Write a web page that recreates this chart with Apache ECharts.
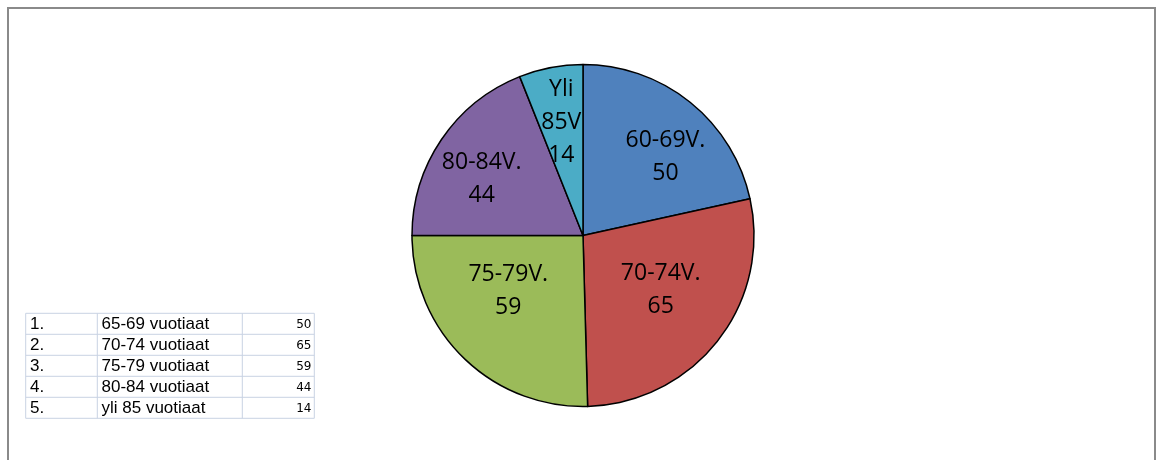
<!DOCTYPE html>
<html>
<head>
<meta charset="utf-8">
<script src="https://cdn.jsdelivr.net/npm/echarts@6/dist/echarts.min.js"></script>
<style>
html,body{margin:0;padding:0;background:#fff;}
#chart{width:1158px;height:460px;}
</style>
</head>
<body>
<div id="chart"></div>
<script>
// Pie data
const categories = ['60-69V.', '70-74V.', '75-79V.', '80-84V.', 'Yli\n85V'];
const values = [50, 65, 59, 44, 14];

// Table data
const tableIndex = ['1.', '2.', '3.', '4.', '5.'];
const tableLabels = ['65-69 vuotiaat', '70-74 vuotiaat', '75-79 vuotiaat', '80-84 vuotiaat', 'yli 85 vuotiaat'];
const tableValues = [50, 65, 59, 44, 14];

// Styles / layout
const colors = ['#4f81bd', '#c0504d', '#9bbb59', '#8064a2', '#4bacc6'];
const labelOffsets = [[27, -10], [8, 0], [-13, -8], [-28, -7], [-5, -26]];

const chart = echarts.init(document.getElementById('chart'));

const colX = [25.7, 97.3, 242.3, 314.3];
const rowTop = 313.3, rowH = 21;
const gridColor = '#c9d3e3';
const graphics = [];

// outer frame
graphics.push({
  type: 'polyline', silent: true,
  shape: { points: [[8, 470], [8, 8], [1155, 8], [1155, 470]] },
  style: { stroke: '#8a8a8a', lineWidth: 2, fill: null }
});

// table grid
const nRows = tableLabels.length;
for (let i = 0; i <= nRows; i++) {
  const y = rowTop + i * rowH;
  graphics.push({ type: 'line', silent: true, shape: { x1: colX[0], y1: y, x2: colX[3], y2: y }, style: { stroke: gridColor, lineWidth: 1 } });
}
colX.forEach(x => {
  graphics.push({ type: 'line', silent: true, shape: { x1: x, y1: rowTop, x2: x, y2: rowTop + nRows * rowH }, style: { stroke: gridColor, lineWidth: 1 } });
});
for (let i = 0; i < nRows; i++) {
  const cy = rowTop + i * rowH + rowH / 2 + 0.5;
  graphics.push({ type: 'text', silent: true, style: { x: 30, y: cy, text: tableIndex[i], fill: '#000', font: '17px "Liberation Sans", Arial, sans-serif', textVerticalAlign: 'middle', verticalAlign: 'middle' } });
  graphics.push({ type: 'text', silent: true, style: { x: 101.5, y: cy, text: tableLabels[i], fill: '#000', font: '17px "Liberation Sans", Arial, sans-serif', textVerticalAlign: 'middle', verticalAlign: 'middle' } });
  graphics.push({ type: 'text', silent: true, style: { x: 311.5, y: cy + 0.5, text: String(tableValues[i]), fill: '#000', font: '12px "DejaVu Sans", Verdana, sans-serif', align: 'right', textAlign: 'right', textVerticalAlign: 'middle', verticalAlign: 'middle' } });
}

chart.setOption({
  animation: false,
  backgroundColor: '#ffffff',
  graphic: graphics,
  series: [{
    type: 'pie',
    center: [583, 235.5],
    radius: [0, 171],
    startAngle: 90,
    clockwise: true,
    silent: true,
    itemStyle: { borderColor: '#000', borderWidth: 1.5 },
    label: {
      show: true,
      position: 'inside',
      formatter: '{b}\n{c}',
      fontFamily: '"Open Sans", "Noto Sans", sans-serif',
      fontSize: 23,
      lineHeight: 33,
      color: '#000',
      align: 'center'
    },
    labelLine: { show: false },
    data: values.map((v, i) => ({
      name: categories[i],
      value: v,
      itemStyle: { color: colors[i] },
      label: { offset: labelOffsets[i] }
    }))
  }]
});
</script>
</body>
</html>
